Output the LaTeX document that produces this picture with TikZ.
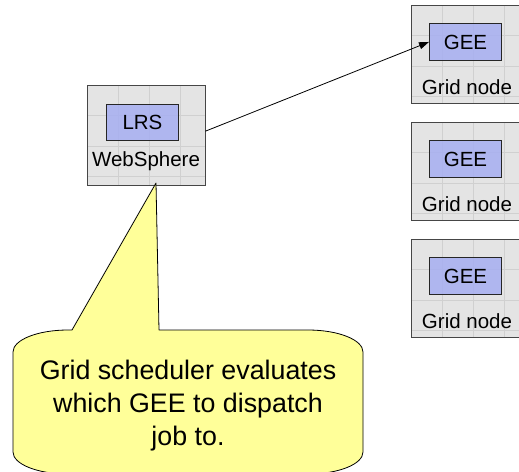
\documentclass[tikz,border=0pt]{standalone}
\usepackage{fontspec}
\setmainfont{Liberation Sans}
\usetikzlibrary{arrows.meta,calc}

\definecolor{panelgray}{RGB}{228,228,228}
\definecolor{panelline}{RGB}{208,208,208}
\definecolor{panelborder}{RGB}{70,70,70}
\definecolor{compblue}{RGB}{166,174,242}
\definecolor{noteyellow}{RGB}{255,255,153}

% light grid inside a host panel, redrawn border on top
\newcommand{\hostgrid}[1]{%
  \foreach \k in {1,2,3}{%
    \draw[gridline] ($(#1.north west)+(\k*31,0)$) -- ($(#1.south west)+(\k*31,0)$);
    \draw[gridline] ($(#1.north west)+(0,\k*30.5)$) -- ($(#1.north east)+(0,\k*30.5)$);
  }%
  \draw[panelborder, line width=0.9pt] (#1.north west) rectangle (#1.south east);
}

\begin{document}
\begin{tikzpicture}[x=1pt, y=-1pt,
  hostbox/.style={fill=panelgray, anchor=north west, inner sep=0pt},
  gridline/.style={draw=panelline, line width=0.6pt},
  compbox/.style={draw=black!85, line width=0.9pt, fill=compblue, fill opacity=0.85,
    text opacity=1, anchor=north west, inner sep=0pt,
    minimum width=72pt, minimum height=36pt, font=\fontsize{20.5}{24}\selectfont},
  hostlabel/.style={anchor=base, inner sep=0pt, font=\fontsize{20.5}{24}\selectfont},
  notetext/.style={align=center, inner sep=0pt, font=\fontsize{26.8}{33}\selectfont},
  callout/.style={draw=black, line width=0.8pt, fill=noteyellow, line join=round},
  dispatch/.style={draw=black, line width=0.8pt, -{Triangle[length=10pt, width=7pt]}}
]
\useasboundingbox (0,0) rectangle (519,471);
\clip (0,0) rectangle (519,471);

% WebSphere host running the LRS
\node[hostbox, minimum width=118pt, minimum height=100pt] (ws) at (87,85) {};
\hostgrid{ws}
\node[compbox] (lrs) at (106,104) {LRS};
\node[hostlabel] (wslabel) at (146,166) {WebSphere};

% three grid nodes, each with a GEE
\foreach \n/\y in {1/5, 2/122, 3/239}{
  \node[hostbox, minimum width=120pt, minimum height=98pt] (gn\n) at (411,\y) {};
  \hostgrid{gn\n}
  \node[compbox, minimum width=72pt, minimum height=37pt] (gee\n) at (429,\y+18) {GEE};
  \node[hostlabel] (gnlabel\n) at (467,\y+89) {Grid node};
}

% job dispatched to the first GEE
\draw[dispatch] ([yshift=4pt]ws.east) -- (gee1.west);

% callout pointing at the scheduler
\coordinate (tip) at (156,183);
\draw[callout] (72,330) -- (tip) -- (159,330) -- (308,330)
  .. controls (338.4,330) and (363,339.8) .. (363,352) -- (363,452)
  .. controls (363,464.2) and (338.4,474) .. (308,474) -- (68,474)
  .. controls (37.6,474) and (13,464.2) .. (13,452) -- (13,352)
  .. controls (13,339.8) and (37.6,330) .. (68,330) -- cycle;
\node[notetext] (note) at (188,406) {Grid scheduler evaluates\\which GEE to dispatch\\job to.};
\end{tikzpicture}
\end{document}
